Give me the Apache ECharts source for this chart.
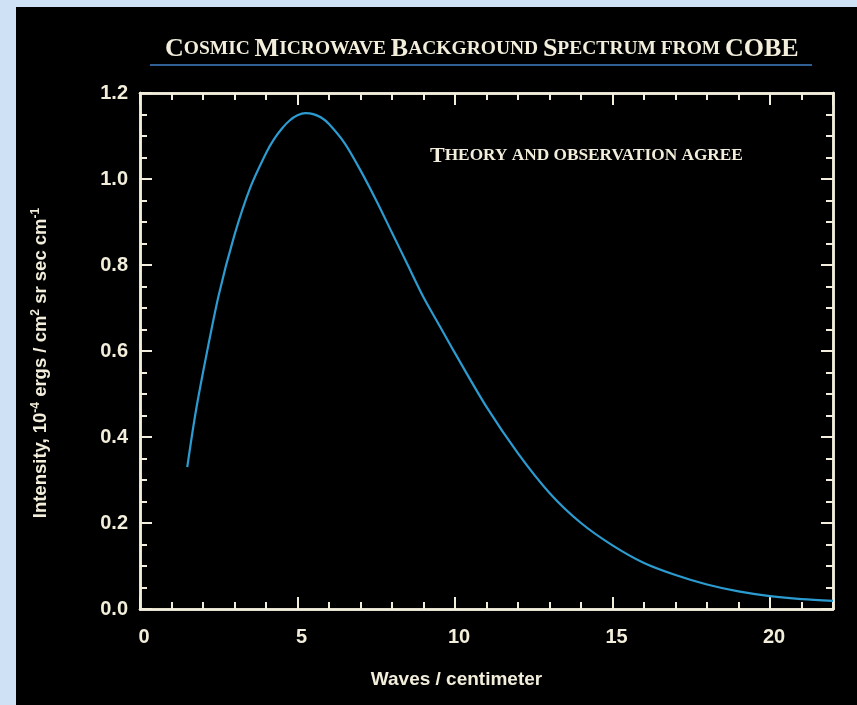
<!DOCTYPE html>
<html>
<head>
<meta charset="utf-8">
<script src="https://cdn.jsdelivr.net/npm/echarts@6/dist/echarts.min.js"></script>
<style>
html,body{margin:0;padding:0;width:857px;height:705px;overflow:hidden;background:#cfe1f4;}
#chart{position:absolute;left:16px;top:7px;width:841px;height:698px;}
</style>
</head>
<body>
<div id="chart"></div>
<script>
// Wavenumber (waves / centimeter) and intensity
var waveNumbers = [1.5, 1.75, 2, 2.5, 3, 3.5, 4, 4.25, 4.5, 4.75, 5, 5.25, 5.5, 5.75, 6, 6.5, 7, 7.5, 8, 8.5, 9, 9.5, 10, 11, 12, 13, 14, 15, 16, 17, 18, 19, 20, 21, 22];
var intensity   = [0.33, 0.45, 0.55, 0.73, 0.87, 0.98, 1.06, 1.092, 1.117, 1.136, 1.148, 1.153, 1.151, 1.143, 1.128, 1.083, 1.02, 0.95, 0.875, 0.80, 0.725, 0.66, 0.595, 0.47, 0.362, 0.27, 0.20, 0.148, 0.107, 0.079, 0.057, 0.041, 0.030, 0.023, 0.019];
var xTickLabels = ['0', '5', '10', '15', '20'];
var yTickLabels = ['0.0', '0.2', '0.4', '0.6', '0.8', '1.0', '1.2'];

var cream = '#f2eedb';
var sans = 'Liberation Sans, Arial, sans-serif';
var serif = 'Liberation Serif, Times New Roman, serif';

var chart = echarts.init(document.getElementById('chart'));

function xAx(pos, interval, len, labels, extra) {
  var o = {
    type: 'value', position: pos, min: 0, max: 22, interval: interval,
    axisLine: {show: true, onZero: false, lineStyle: {color: cream, width: 2.5}},
    axisTick: {show: true, inside: true, length: len, lineStyle: {color: cream, width: 2}},
    axisLabel: {show: labels},
    splitLine: {show: false}
  };
  return Object.assign(o, extra || {});
}
function yAx(pos, interval, len, labels, extra) {
  var o = {
    type: 'value', position: pos, min: 0, max: 1.2, interval: interval,
    axisLine: {show: true, onZero: false, lineStyle: {color: cream, width: 2.5}},
    axisTick: {show: true, inside: true, length: len, lineStyle: {color: cream, width: 2}},
    axisLabel: {show: labels},
    splitLine: {show: false}
  };
  return Object.assign(o, extra || {});
}

var option = {
  backgroundColor: '#000000',
  animation: false,
  grid: {left: 124, top: 86, right: 24, bottom: 96, containLabel: false},
  xAxis: [
    xAx('bottom', 5, 12, true, {
      name: 'Waves / centimeter', nameLocation: 'middle', nameGap: 61,
      nameTextStyle: {color: cream, fontFamily: sans, fontWeight: 'bold', fontSize: 19, padding: [0, 60, 0, 0]},
      axisLabel: {show: true, color: cream, fontFamily: sans, fontWeight: 'bold', fontSize: 20, margin: 18,
        showMaxLabel: false, padding: [0, 0, 0, 8],
        formatter: function (v) { var i = Math.round(v / 5); return (Math.abs(v - i * 5) < 1e-6 && xTickLabels[i] !== undefined) ? xTickLabels[i] : ''; }}
    }),
    xAx('bottom', 1, 7, false),
    xAx('top', 5, 12, false),
    xAx('top', 1, 7, false)
  ],
  yAxis: [
    yAx('left', 0.2, 12, true, {
      name: 'Intensity, 10{sup|-4} ergs / cm{sup|2} sr sec cm{sup|-1}',
      nameLocation: 'middle', nameGap: 89, nameRotate: 90,
      nameTextStyle: {color: cream, fontFamily: sans, fontWeight: 'bold', fontSize: 18.5, padding: [0, 24, 0, 0],
        rich: {sup: {color: cream, fontFamily: sans, fontWeight: 'bold', fontSize: 12, verticalAlign: 'top', padding: [0, 0, 9, 0]}}},
      axisLabel: {show: true, color: cream, fontFamily: sans, fontWeight: 'bold', fontSize: 20, margin: 12,
        formatter: function (v) { var i = Math.round(v / 0.2); return (Math.abs(v - i * 0.2) < 1e-6 && yTickLabels[i] !== undefined) ? yTickLabels[i] : ''; }}
    }),
    yAx('left', 0.05, 7, false),
    yAx('right', 0.2, 12, false),
    yAx('right', 0.05, 7, false)
  ],
  graphic: [
    {
      type: 'text', left: 149, top: 29, z: 10,
      style: {
        text: '{b|C}{s|OSMIC} {b|M}{s|ICROWAVE} {b|B}{s|ACKGROUND} {b|S}{s|PECTRUM} {s|FROM} {b|COBE}',
        fill: cream, font: 'bold 19px ' + serif,
        rich: {
          b: {fontFamily: serif, fontWeight: 'bold', fontSize: 26, fill: cream, color: cream},
          s: {fontFamily: serif, fontWeight: 'bold', fontSize: 19.5, fill: cream, color: cream}
        }
      }
    },
    {
      type: 'line', z: 10,
      shape: {x1: 134, y1: 58, x2: 796, y2: 58},
      style: {stroke: '#3f7fc4', lineWidth: 1.5}
    },
    {
      type: 'text', left: 414, top: 138, z: 10,
      style: {
        text: '{b|T}{s|HEORY AND OBSERVATION AGREE}',
        fill: cream, font: 'bold 17px ' + serif,
        rich: {
          b: {fontFamily: serif, fontWeight: 'bold', fontSize: 22, fill: cream, color: cream},
          s: {fontFamily: serif, fontWeight: 'bold', fontSize: 17.3, fill: cream, color: cream}
        }
      }
    }
  ],
  series: [{
    type: 'line', xAxisIndex: 0, yAxisIndex: 0,
    data: waveNumbers.map(function (x, i) { return [x, intensity[i]]; }),
    smooth: 0.3, showSymbol: false,
    lineStyle: {color: '#2b9bd0', width: 2.2}
  }]
};
chart.setOption(option);
</script>
</body>
</html>
